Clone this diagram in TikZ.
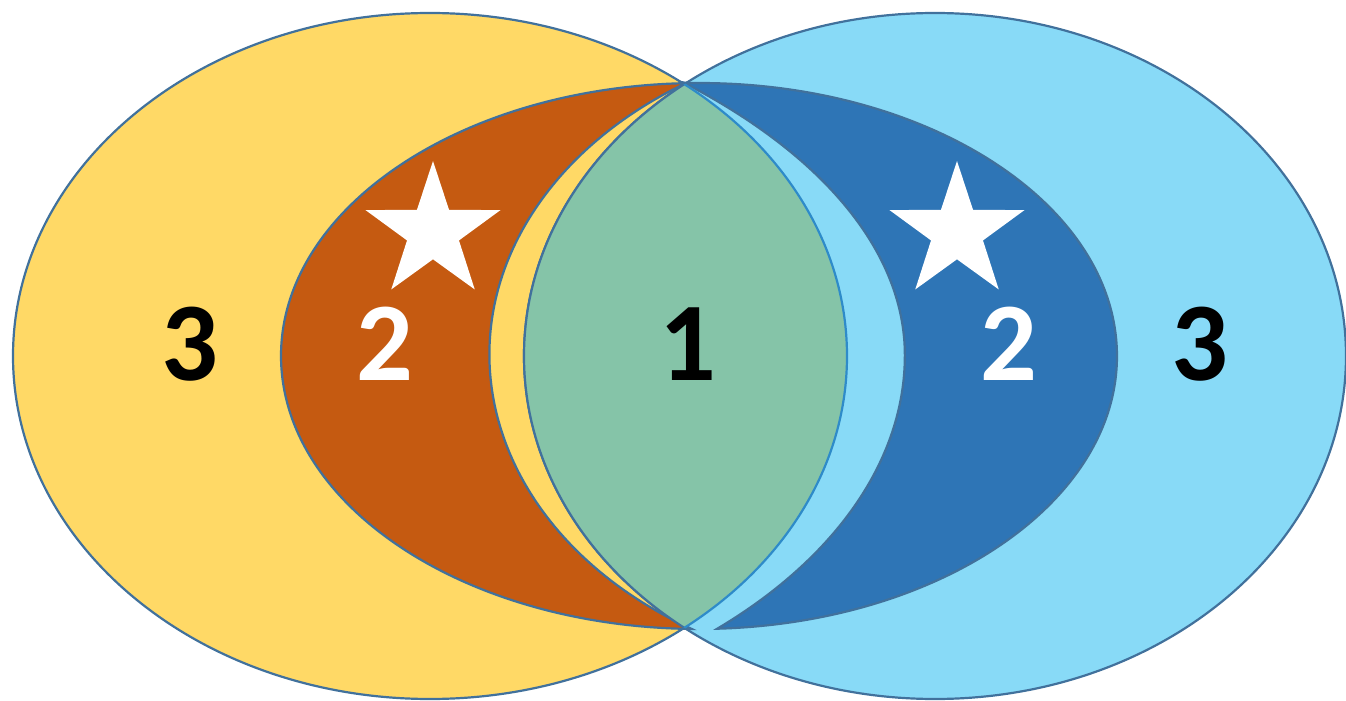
\documentclass[tikz,border=0pt]{standalone}
\usepackage{fontspec}
\newfontfamily\vennfont{Carlito}
\usetikzlibrary{shapes.geometric}
\definecolor{vnYellow}{HTML}{FFD966}
\definecolor{vnSky}{HTML}{88DAF7}
\definecolor{vnRust}{HTML}{C55A11}
\definecolor{vnBlue}{HTML}{2E75B6}
\definecolor{vnSage}{HTML}{85C4A8}
\definecolor{vnEdge}{HTML}{41719C}
\definecolor{vnRim}{HTML}{2E8BC9}
\tikzset{
  venn edge/.style={draw=vnEdge,line width=1.1pt},
  venn label/.style={font=\vennfont\bfseries\fontsize{56}{56}\selectfont,inner sep=0pt},
  venn star/.style={star,star points=5,star point ratio=2.6,minimum size=71pt,inner sep=0pt,fill=white}
}
\begin{document}
\begin{tikzpicture}[x=0.5pt,y=-0.5pt]
\useasboundingbox (0,0) rectangle (1346,701);
% the two big sets
\filldraw[fill=vnYellow,venn edge] (430,356) ellipse [x radius=417,y radius=343];
\filldraw[fill=vnSky,venn edge] (935,356) ellipse [x radius=411,y radius=343];
% crescents
\filldraw[fill=vnRust,venn edge] ([shift={(268.2:418 and 273)}]699,356)
  arc[start angle=268.2,end angle=91,x radius=418,y radius=273]
  arc[start angle=121,end angle=238.5,x radius=417,y radius=320] -- cycle;
\filldraw[fill=vnBlue,venn edge] ([shift={(-91.6:418 and 273)}]699,356)
  arc[start angle=-91.6,end angle=87.5,x radius=418,y radius=273]
  arc[start angle=46.5,end angle=0,x radius=602,y radius=377]
  arc[start angle=0,end angle=-43.7,x radius=800,y radius=395] -- cycle;
% overlap
\begin{scope}
  \clip (430,356) ellipse [x radius=417,y radius=343];
  \fill[vnSage] (935,356) ellipse [x radius=411,y radius=343];
  \draw[venn edge] (935,356) ellipse [x radius=411,y radius=343];
\end{scope}
\begin{scope}
  \clip (935,356) ellipse [x radius=411,y radius=343];
  \draw[draw=vnRim,line width=1.1pt] (430,356) ellipse [x radius=417,y radius=343];
\end{scope}
\node[venn star] (starL) at (433,232) {};
\node[venn star] (starR) at (957,232) {};
\node[venn label] (outerL) at (190,344) {3};
\node[venn label,text=white] (midL) at (385,344) {2};
\node[venn label] (core) at (688,344) {1};
\node[venn label,text=white] (midR) at (1009,344) {2};
\node[venn label] (outerR) at (1200,344) {3};
\end{tikzpicture}
\end{document}
